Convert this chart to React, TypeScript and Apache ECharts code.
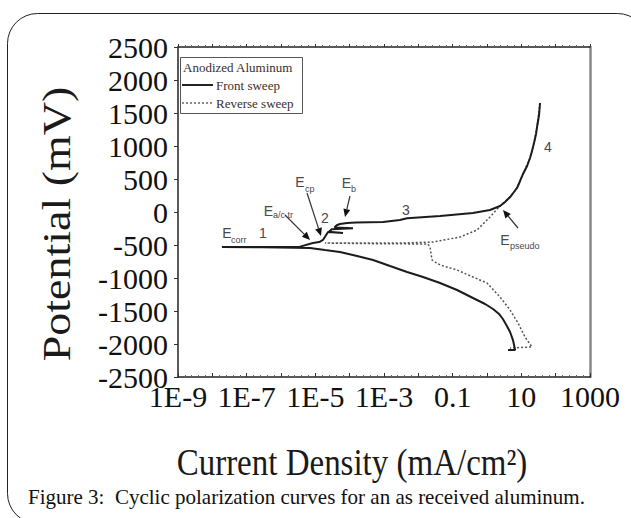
import { useEffect, useRef } from 'react';
import * as echarts from 'echarts';

// x axis: current density (mA/cm²), log decades
const xDecadeExponents = [-9, -7, -5, -3, -1, 1, 3];
const xDecadeLabels = ['1E-9', '1E-7', '1E-5', '1E-3', '0.1', '10', '1000'];

// Front sweep (solid): current density (mA/cm²) and potential (mV)
const frontCurrent = [
  4.1, 6.6, 5.7, 4.7, 3.8, 2.9, 2.24, 1.5, 0.88, 0.39, 0.134, 0.043, 0.0137,
  4.7e-3, 1.5e-3, 4.8e-4, 1.64e-4, 5.2e-5, 1.9e-5, 7.0e-6,
  3.0e-7, 1.9e-8, 3.6e-7, 3.6e-6, 8.5e-6, 1.3e-5, 1.67e-5, 2.34e-5, 6.4e-5,
  2.5e-5, 3.0e-5, 1.25e-4, 3.6e-5, 4.2e-5, 5.2e-5, 8.4e-5, 1.53e-4, 9.4e-4,
  2.9e-3, 4.7e-3, 0.043, 0.39, 1.22, 2.4, 3.35, 4.7, 6.1, 7.5, 9.2, 11.2,
  14.7, 17.9, 20.5, 23.4, 26.8, 28.7, 32.8, 35,
];
const frontPotential = [
  -2090, -2090, -1940, -1818, -1727, -1621, -1545, -1470, -1394, -1303, -1182, -1076, -985,
  -909, -818, -727, -667, -606, -576, -545,
  -535, -530, -530, -525, -470, -455, -424, -303, -318,
  -300, -260, -245, -235, -200, -182, -167, -160, -152,
  -121, -95, -61, -15, 30, 91, 152, 227, 303, 364, 470, 576,
  697, 818, 924, 1045, 1182, 1288, 1470, 1651,
];

// Reverse sweep (dotted)
const reverseCurrent = [
  35, 28.7, 23.4, 17.9, 11.2, 7.5, 4.7, 2.4, 1.22, 0.51, 0.164, 0.0268, 2.9e-3,
  2.0e-4, 1.9e-5, 2.0e-4, 0.019, 0.022, 0.025, 0.043, 0.134, 0.39, 1.0, 2.4,
  4.7, 8.0, 12.8, 14.7, 20.5, 4.7,
];
const reversePotential = [
  1651, 1288, 1045, 818, 576, 364, 227, 91, -76, -273, -379, -455, -470,
  -470, -470, -478, -485, -530, -727, -803, -879, -985, -1076, -1288,
  -1485, -1682, -1894, -1939, -2045, -2060,
];

// annotation layout (pixels)
const arrows = [
  [285, 215, 310, 240],
  [307, 193, 321, 236],
  [350, 196, 345, 217],
  [518, 228, 503, 210],
];
const labelsE = [
  { x: 227, y: 233, sub: 'corr', sx: 231, sy: 240 },
  { x: 268.5, y: 211, sub: 'a/c tr', sx: 273, sy: 215 },
  { x: 300, y: 182, sub: 'cp', sx: 305, sy: 189 },
  { x: 346.5, y: 182.5, sub: 'b', sx: 351, sy: 189 },
  { x: 505, y: 240, sub: 'pseudo', sx: 510, sy: 246 },
];
const regionLabels = [
  { t: '1', x: 263, y: 233 },
  { t: '2', x: 325, y: 218 },
  { t: '3', x: 406, y: 210 },
  { t: '4', x: 548, y: 147 },
];

const ANN = '#4a4a4a';
const SANS = 'Liberation Sans, Arial, sans-serif';
const SERIF = 'Liberation Serif, Times New Roman, serif';

function arrowEls(a: number[]) {
  const [x1, y1, x2, y2] = a;
  const dx = x2 - x1, dy = y2 - y1;
  const L = Math.hypot(dx, dy);
  const ux = dx / L, uy = dy / L;
  const hl = 8, hw = 3.5;
  const bx = x2 - ux * hl, by = y2 - uy * hl;
  return [
    { type: 'line', silent: true, shape: { x1, y1, x2: bx, y2: by }, style: { stroke: '#333', lineWidth: 1.2 } },
    {
      type: 'polygon', silent: true,
      shape: { points: [[x2, y2], [bx - uy * hw, by + ux * hw], [bx + uy * hw, by - ux * hw]] },
      style: { fill: '#111' },
    },
  ];
}

export default function App() {
  const ref = useRef<HTMLDivElement>(null);
  useEffect(() => {
    const chart = echarts.init(ref.current!, null, { renderer: 'svg' });
    const toXY = (c: number[], p: number[]) => c.map((v, i) => [Math.log10(v), p[i]]);
    const xFmt = (v: number) => {
      const r = Math.round(v);
      if (Math.abs(v - r) > 1e-6) return '';
      const i = xDecadeExponents.indexOf(r);
      return i >= 0 ? xDecadeLabels[i] : '';
    };

    const graphic: any[] = [
      {
        type: 'rect', silent: true, z: -10,
        shape: { x: 7.5, y: 13.5, width: 640, height: 510, r: 30 },
        style: { fill: 'none', stroke: '#222', lineWidth: 1 },
      },
      // legend box
      {
        type: 'rect', silent: true,
        shape: { x: 180.5, y: 57.5, width: 122, height: 56 },
        style: { fill: '#fff', stroke: '#555', lineWidth: 1 },
      },
      { type: 'text', silent: true, x: 183, y: 67, style: { text: 'Anodized Aluminum', font: `13px ${SERIF}`, fill: '#3a2e2e', verticalAlign: 'middle', align: 'left' } },
      { type: 'line', silent: true, shape: { x1: 182, y1: 85, x2: 213, y2: 85 }, style: { stroke: '#222', lineWidth: 2 } },
      { type: 'text', silent: true, x: 216, y: 85, style: { text: 'Front sweep', font: `13px ${SERIF}`, fill: '#3a2e2e', verticalAlign: 'middle', align: 'left' } },
      { type: 'line', silent: true, shape: { x1: 182, y1: 103, x2: 213, y2: 103 }, style: { stroke: '#666', lineWidth: 1.5, lineDash: [2, 2] } },
      { type: 'text', silent: true, x: 216, y: 103, style: { text: 'Reverse sweep', font: `13px ${SERIF}`, fill: '#3a2e2e', verticalAlign: 'middle', align: 'left' } },
      // axis titles
      {
        type: 'text', silent: true, x: 56, y: 224, rotation: Math.PI / 2, scaleY: 0.88,
        style: { text: 'Potential (mV)', font: `46px ${SERIF}`, fill: '#1a1a1a', align: 'center', verticalAlign: 'middle' },
      },
      {
        type: 'text', silent: true, x: 352, y: 462, scaleY: 1.15,
        style: { text: 'Current Density (mA/cm²)', font: `33px ${SERIF}`, fill: '#1a1a1a', align: 'center', verticalAlign: 'middle' },
      },
      // caption
      {
        type: 'text', silent: true, x: 28, y: 497,
        style: { text: 'Figure 3:  Cyclic polarization curves for an as received aluminum.', font: `21px ${SERIF}`, fill: '#111', align: 'left', verticalAlign: 'middle' },
      },
    ];
    arrows.forEach((a) => graphic.push(...arrowEls(a)));
    labelsE.forEach((l) => {
      graphic.push({ type: 'text', silent: true, x: l.x, y: l.y, style: { text: 'E', font: `14px ${SANS}`, fill: ANN, align: 'center', verticalAlign: 'middle' } });
      graphic.push({ type: 'text', silent: true, x: l.sx, y: l.sy, style: { text: l.sub, font: `9px ${SANS}`, fill: ANN, align: 'left', verticalAlign: 'middle' } });
    });
    regionLabels.forEach((l) => {
      graphic.push({ type: 'text', silent: true, x: l.x, y: l.y, style: { text: l.t, font: `14px ${SANS}`, fill: ANN, align: 'center', verticalAlign: 'middle' } });
    });

    const axisLabelFont = { fontFamily: SERIF, fontSize: 30, color: '#111' };

    chart.setOption({
      animation: false,
      backgroundColor: '#fff',
      grid: { left: 178, right: 41, top: 47, bottom: 141 },
      xAxis: [
        {
          type: 'value', min: -9, max: 3, interval: 1, position: 'bottom',
          axisLine: { show: true, onZero: false, lineStyle: { color: '#222', width: 1.5 } },
          axisTick: { show: true, inside: true, length: 4, lineStyle: { color: '#333' } },
          minorTick: { show: true, splitNumber: 5, length: 2, lineStyle: { color: '#666' } },
          splitLine: { show: false },
          axisLabel: { ...axisLabelFont, lineHeight: 20, formatter: xFmt, margin: 9, hideOverlap: false },
        },
        {
          type: 'value', min: -9, max: 3, interval: 1, position: 'top',
          axisLine: { show: true, onZero: false, lineStyle: { color: '#222', width: 1.5 } },
          axisTick: { show: true, inside: false, length: 3, lineStyle: { color: '#333' } },
          minorTick: { show: true, splitNumber: 5, length: 2, lineStyle: { color: '#666' } },
          splitLine: { show: false },
          axisLabel: { show: false },
        },
      ],
      yAxis: [
        {
          type: 'value', min: -2500, max: 2500, interval: 500, position: 'left',
          axisLine: { show: true, onZero: false, lineStyle: { color: '#222', width: 1.5 } },
          axisTick: { show: true, inside: false, length: 4, lineStyle: { color: '#333' } },
          splitLine: { show: false },
          axisLabel: { ...axisLabelFont, lineHeight: 18, margin: 10, formatter: (v: number) => String(v) },
        },
        {
          type: 'value', min: -2500, max: 2500, interval: 500, position: 'right',
          axisLine: { show: true, onZero: false, lineStyle: { color: '#888', width: 2.5 } },
          axisTick: { show: false },
          splitLine: { show: false },
          axisLabel: { show: false },
        },
      ],
      series: [
        {
          type: 'line', name: 'Reverse sweep', data: toXY(reverseCurrent, reversePotential),
          showSymbol: false, z: 2,
          lineStyle: { color: '#555', width: 1.5, type: [2, 2] },
        },
        {
          type: 'line', name: 'Front sweep', data: toXY(frontCurrent, frontPotential),
          showSymbol: false, z: 3,
          lineStyle: { color: '#1c1c1c', width: 2 },
        },
      ],
      graphic,
    });
    return () => chart.dispose();
  }, []);
  return <div ref={ref} style={{ position: 'fixed', left: 0, top: 0, width: 631, height: 518 }} />;
}
